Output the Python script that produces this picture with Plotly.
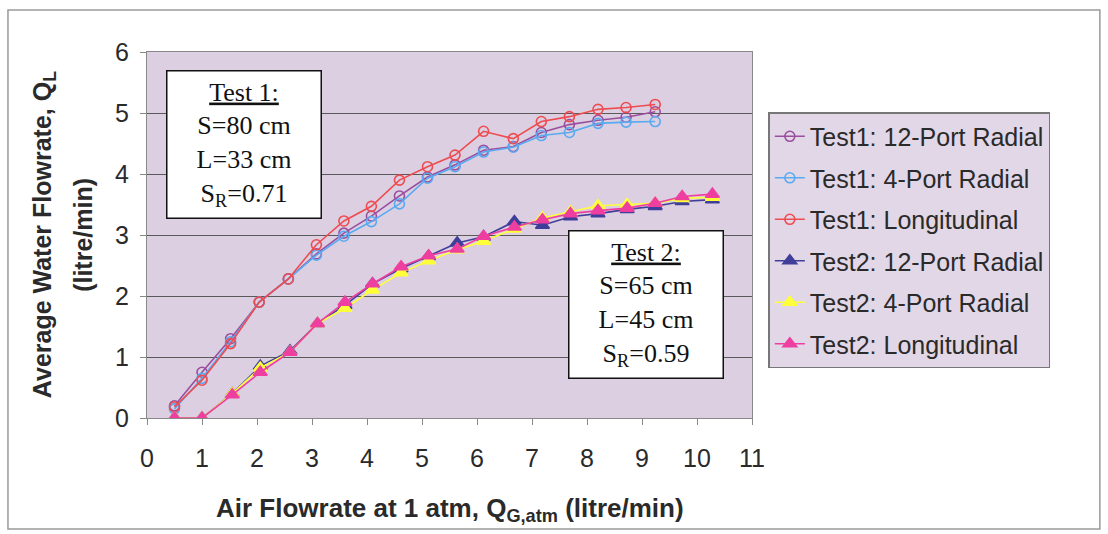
import plotly.graph_objects as go

# Air flowrate at 1 atm (litre/min)
x_test1 = [0.5, 1.0, 1.52, 2.04, 2.57, 3.08, 3.58, 4.08, 4.59, 5.1, 5.6, 6.12, 6.66, 7.17, 7.68, 8.2, 8.71, 9.24]
x_test2 = [0.5, 1.0, 1.55, 2.06, 2.6, 3.1, 3.6, 4.1, 4.62, 5.12, 5.64, 6.12, 6.68, 7.19, 7.7, 8.2, 8.73, 9.24, 9.73, 10.28]

# Average water flowrate (litre/min)
t1_radial12 = [0.2, 0.75, 1.3, 1.9, 2.28, 2.69, 3.03, 3.31, 3.64, 3.95, 4.15, 4.39, 4.45, 4.68, 4.81, 4.88, 4.93, 5.02]
t1_radial4 = [0.15, 0.65, 1.25, 1.9, 2.28, 2.67, 2.98, 3.22, 3.51, 3.93, 4.12, 4.36, 4.44, 4.63, 4.68, 4.83, 4.85, 4.86]
t1_long = [0.18, 0.62, 1.22, 1.9, 2.28, 2.84, 3.23, 3.47, 3.9, 4.12, 4.31, 4.7, 4.58, 4.86, 4.94, 5.06, 5.09, 5.14]
t2_radial12 = [0.0, 0.0, 0.4, 0.85, 1.1, 1.55, 1.85, 2.2, 2.45, 2.65, 2.87, 2.97, 3.22, 3.16, 3.3, 3.35, 3.42, 3.47, 3.55, 3.58]
t2_radial4 = [0.0, 0.0, 0.4, 0.82, 1.08, 1.55, 1.8, 2.1, 2.38, 2.58, 2.76, 2.9, 3.1, 3.28, 3.38, 3.48, 3.5, 3.52, 3.6, 3.62]
t2_long = [0.0, 0.0, 0.38, 0.75, 1.08, 1.55, 1.9, 2.2, 2.48, 2.66, 2.77, 2.98, 3.13, 3.25, 3.35, 3.4, 3.44, 3.52, 3.63, 3.67]

series = [
    ("Test1: 12-Port Radial", x_test1, t1_radial12, "#9a4f9e", "circle-open"),
    ("Test1: 4-Port Radial", x_test1, t1_radial4, "#5aaaf0", "circle-open"),
    ("Test1: Longitudinal", x_test1, t1_long, "#ee4c50", "circle-open"),
    ("Test2: 12-Port Radial", x_test2, t2_radial12, "#3f3f9a", "triangle-up"),
    ("Test2: 4-Port Radial", x_test2, t2_radial4, "#ffff3a", "triangle-up"),
    ("Test2: Longitudinal", x_test2, t2_long, "#ee3fa0", "triangle-up"),
]

fig = go.Figure()
for i, (name, xs, ys, color, sym) in enumerate(series):
    is_open = sym.endswith("open")
    fig.add_trace(go.Scatter(
        x=xs, y=ys, name=name, mode="lines+markers",
        legendgroup=f"g{i}",
        line=dict(color=color, width=1.6),
        marker=dict(symbol=sym, size=10 if is_open else 12, color=color,
                    line=dict(color=color, width=1.6)),
    ))

plot_bg = "#dccfe2"
text_col = "#2a2a2a"
sans = "Arial, Liberation Sans, sans-serif"
serif = "Liberation Serif, Times New Roman, serif"

fig.update_layout(
    width=1108, height=534,
    margin=dict(l=147, r=356, t=52, b=116),
    paper_bgcolor="white",
    plot_bgcolor=plot_bg,
    font=dict(family=sans, color=text_col),
    showlegend=True,
    legend=dict(
        x=1.027, y=0.836, xanchor="left", yanchor="top",
        bgcolor="#e2d7e7", bordercolor="#777777", borderwidth=1.5,
        font=dict(size=25, color=text_col),
        tracegroupgap=6,
    ),
    xaxis=dict(
        range=[0, 11], dtick=1, tick0=0,
        showgrid=False, zeroline=False,
        showline=True, linecolor="#888888", linewidth=1, mirror=True,
        ticks="outside", ticklen=6, tickcolor="#888888",
        ticklabelstandoff=12,
        tickfont=dict(size=25, color=text_col),
    ),
    yaxis=dict(
        range=[0, 6], dtick=1, tick0=0,
        showgrid=True, gridcolor="#5a5a5a", gridwidth=1,
        zeroline=False,
        showline=True, linecolor="#888888", linewidth=1, mirror=True,
        ticks="outside", ticklen=6, tickcolor="#888888",
        ticklabelstandoff=6,
        tickfont=dict(size=25, color=text_col),
    ),
)

# Axis titles
fig.add_annotation(
    x=0.5, y=-0.25, xref="paper", yref="paper", xanchor="center", yanchor="middle",
    text="<b>Air Flowrate at 1 atm, Q<sub>G,atm</sub> (litre/min)</b>",
    showarrow=False, font=dict(size=26, color=text_col),
)
fig.add_annotation(
    x=-0.17, y=0.5, xref="paper", yref="paper", xanchor="center", yanchor="middle",
    text="<b>Average Water Flowrate, Q<sub>L</sub></b>", textangle=-90,
    showarrow=False, font=dict(size=25, color=text_col),
)
fig.add_annotation(
    x=-0.106, y=0.5, xref="paper", yref="paper", xanchor="center", yanchor="middle",
    text="<b>(litre/min)</b>", textangle=-90,
    showarrow=False, font=dict(size=25, color=text_col),
)

# Text boxes describing the two tests
box_text = [
    ("<u>Test 1:</u><br>S=80 cm<br>L=33 cm<br>S<sub>R</sub>=0.71", 0.161, 0.951),
    ("<u>Test 2:</u><br>S=65 cm<br>L=45 cm<br>S<sub>R</sub>=0.59", 0.825, 0.514),
]
for txt, xv, yv in box_text:
    fig.add_annotation(
        x=xv, y=yv, xref="paper", yref="paper", xanchor="center", yanchor="top",
        text=txt, showarrow=False, align="center",
        font=dict(family=serif, size=26, color="#111111"),
        bgcolor="white", bordercolor="#111111", borderwidth=1.5,
        borderpad=5, width=143, height=136,
    )

# Outer chart frame
fig.add_shape(type="rect", xref="paper", yref="paper",
              x0=-0.2298, x1=1.575, y0=-0.303, y1=1.115,
              line=dict(color="#9a9a9a", width=1.5), fillcolor="rgba(0,0,0,0)",
              layer="below")

fig.write_html("out.html")
